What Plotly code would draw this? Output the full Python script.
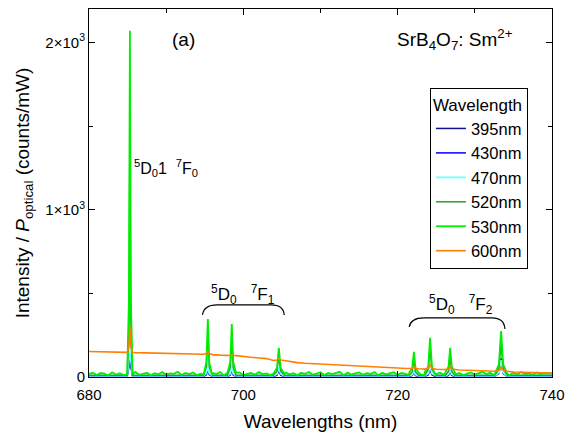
import plotly.graph_objects as go

# ---------------- data ----------------
SERIES = ["395nm", "430nm", "470nm", "520nm", "530nm", "600nm"]
COLORS = ["#10108c", "#0000ff", "#80ffff", "#2e9e2e", "#00ee00", "#ff8000"]
WIDTHS = [1.5, 1.5, 2.0, 1.5, 1.8, 1.6]

# emission peak positions (nm) and half base widths (nm)
PEAK_NM = [685.3, 695.4, 698.5, 704.6, 722.1, 724.2, 726.8, 733.4]
PEAK_HW = [0.35, 0.55, 0.55, 0.7, 0.6, 0.7, 0.6, 0.8]

# peak tops (counts/mW) per excitation wavelength
PEAK_395 = [260, 45, 40, 38, 28, 45, 32, 80]
PEAK_430 = [360, 62, 55, 48, 34, 58, 44, 112]
PEAK_470 = [470, 80, 72, 60, 40, 70, 52, 100]
PEAK_520 = [1450, 240, 220, 125, 105, 165, 120, 195]
PEAK_530 = [2070, 347, 317, 174, 150, 234, 174, 275]
PEAK_600 = [305, 156, 132, 110, 62, 72, 60, 60]

# baseline grids (nm) and baselines
BASE_NM = [680, 681, 682, 683, 684, 685, 686, 687, 688, 689, 690, 691, 692, 693, 694,
           695, 696, 697, 698, 699, 700, 701, 702, 703, 704, 705, 706, 707, 708, 709,
           710, 711, 712, 713, 714, 715, 716, 717, 718, 719, 720, 721, 722, 723, 724,
           725, 726, 727, 728, 729, 730, 731, 732, 733, 734, 735, 736, 737, 738, 739, 740]
FINE_NM = [680.0, 680.5, 681.0, 681.5, 682.0, 682.5, 683.0, 683.5, 684.0, 684.5,
           685.0, 685.5, 686.0, 686.5, 687.0, 687.5, 688.0, 688.5, 689.0, 689.5,
           690.0, 690.5, 691.0, 691.5, 692.0, 692.5, 693.0, 693.5, 694.0, 694.5,
           695.0, 695.5, 696.0, 696.5, 697.0, 697.5, 698.0, 698.5, 699.0, 699.5,
           700.0, 700.5, 701.0, 701.5, 702.0, 702.5, 703.0, 703.5, 704.0, 704.5,
           705.0, 705.5, 706.0, 706.5, 707.0, 707.5, 708.0, 708.5, 709.0, 709.5,
           710.0, 710.5, 711.0, 711.5, 712.0, 712.5, 713.0, 713.5, 714.0, 714.5,
           715.0, 715.5, 716.0, 716.5, 717.0, 717.5, 718.0, 718.5, 719.0, 719.5,
           720.0, 720.5, 721.0, 721.5, 722.0, 722.5, 723.0, 723.5, 724.0, 724.5,
           725.0, 725.5, 726.0, 726.5, 727.0, 727.5, 728.0, 728.5, 729.0, 729.5,
           730.0, 730.5, 731.0, 731.5, 732.0, 732.5, 733.0, 733.5, 734.0, 734.5,
           735.0, 735.5, 736.0, 736.5, 737.0, 737.5, 738.0, 738.5, 739.0, 739.5, 740.0]
BASE_395 = 4
BASE_430 = 5
BASE_470 = 7
BASE_520 = 11
BASE_530 = [18, 26, 12, 24, 20, 9, 28, 15, 22, 11, 27, 17, 30, 13, 21, 25, 10, 23, 16, 29,
            14, 22, 19, 31, 12, 24, 17, 27, 11, 20, 26, 13, 23, 18, 30, 10, 21, 25, 15, 28,
            12, 19, 24, 14, 29, 17, 22, 11, 26, 20, 13, 27, 16, 23, 10, 25, 19, 30, 14, 21,
            28, 12, 24, 17, 22, 31, 11, 26, 15, 20, 27, 13, 23, 18, 29, 10, 25, 16, 21, 28,
            14, 24, 19, 12, 27, 22, 15, 30, 11, 23, 18, 26, 13, 21, 29, 16, 24, 10, 20, 27,
            14, 22, 31, 17, 25, 12, 28, 19, 23, 11, 26, 15, 30, 18, 21, 13, 27, 16, 24, 20, 22]
BASE_600 = [152, 151, 150, 149, 148, 147, 146, 145, 144, 143, 142, 141, 140, 139, 138,
            136, 134, 131, 128, 125, 122, 118, 114, 110, 105, 99, 92, 86, 82, 80,
            78, 76, 74, 72, 70, 68, 66, 63, 60, 57, 54, 51, 49, 48, 47,
            46, 45, 44, 42, 40, 38, 36, 35, 34, 32, 30, 28, 27, 26, 24, 23]

PEAKS = [PEAK_395, PEAK_430, PEAK_470, PEAK_520, PEAK_530, PEAK_600]
BASES = [BASE_395, BASE_430, BASE_470, BASE_520, BASE_530, BASE_600]

PROFILE_OFF = [-1.0, -0.35, 0.0, 0.35, 1.0]
PROFILE_FRAC = [0.0, 0.22, 1.0, 0.22, 0.0]


def build(peaks, base):
    if not isinstance(base, list):
        grid = BASE_NM
        base = [base] * len(BASE_NM)
    else:
        grid = FINE_NM if len(base) == len(FINE_NM) else BASE_NM
    pts = []
    for x, b in zip(grid, base):
        if all(abs(x - p) > hw for p, hw in zip(PEAK_NM, PEAK_HW)):
            pts.append((x, b))
    for p, hw, h in zip(PEAK_NM, PEAK_HW, peaks):
        i = min(range(len(grid)), key=lambda k: abs(grid[k] - p))
        b = base[i]
        for o, f in zip(PROFILE_OFF, PROFILE_FRAC):
            pts.append((p + o * hw, b + f * (h - b)))
    pts.sort()
    return [q[0] for q in pts], [q[1] for q in pts]


fig = go.Figure()
for name, col, w, pk, bs in zip(SERIES, COLORS, WIDTHS, PEAKS, BASES):
    xs, ys = build(pk, bs)
    fig.add_trace(go.Scatter(x=xs, y=ys, mode="lines", name=name,
                             line=dict(color=col, width=w)))

FONT = "Liberation Sans, Arial, sans-serif"

fig.update_layout(
    width=567, height=434,
    margin=dict(l=89, r=15, t=9, b=57, autoexpand=False),
    paper_bgcolor="white", plot_bgcolor="white",
    font=dict(family=FONT, color="black", size=15),
    showlegend=True,
    legend=dict(
        title=dict(text="Wavelength", font=dict(size=17)),
        font=dict(size=16.5),
        x=0.948, y=0.785, xanchor="right", yanchor="top",
        bordercolor="black", borderwidth=1, bgcolor="white",
        tracegroupgap=0, itemwidth=30,
    ),
)

fig.update_xaxes(
    range=[680, 740], tickvals=[680, 700, 720, 740], automargin=False,
    ticks="inside", ticklen=6, tickwidth=1, tickcolor="black",
    minor=dict(tickvals=[690, 710, 730], ticks="inside", ticklen=4, tickcolor="black"),
    showline=True, linecolor="black", linewidth=1, mirror="ticks",
    showgrid=False, zeroline=False,
    tickfont=dict(size=15), ticklabelstandoff=4,
    title=dict(text="Wavelengths (nm)", font=dict(size=19), standoff=12),
)
fig.update_yaxes(
    range=[0, 2200], tickvals=[0, 1000, 2000], automargin=False,
    ticktext=["0", "1×10<sup>3</sup>", "2×10<sup>3</sup>"],
    ticks="inside", ticklen=6, tickwidth=1, tickcolor="black",
    minor=dict(tickvals=[500, 1500], ticks="inside", ticklen=4, tickcolor="black"),
    showline=True, linecolor="black", linewidth=1, mirror="ticks",
    showgrid=False, zeroline=False,
    tickfont=dict(size=15),
    title=dict(text="Intensity / <i>P</i><sub>optical</sub> (counts/mW)",
               font=dict(size=19), standoff=10),
)

# text annotations
ann = [
    dict(x=692.2, y=2015, text="(a)", size=19),
    dict(x=727.4, y=2015, text="SrB<sub>4</sub>O<sub>7</sub>: Sm<sup>2+</sup>", size=19),
    dict(x=690.0, y=1250, text="<sup>5</sup>D<sub>0</sub>1  <sup>7</sup>F<sub>0</sub>", size=16),
    dict(x=700.0, y=495, text="<sup>5</sup>D<sub>0</sub>   <sup>7</sup>F<sub>1</sub>", size=17),
    dict(x=728.2, y=435, text="<sup>5</sup>D<sub>0</sub>   <sup>7</sup>F<sub>2</sub>", size=17),
]
for a in ann:
    fig.add_annotation(x=a["x"], y=a["y"], text=a["text"], showarrow=False,
                       xref="x", yref="y", font=dict(size=a["size"], family=FONT, color="black"))

# curly brackets over the multiplets
fig.add_shape(type="path", xref="x", yref="y",
              path="M 694.7,371 Q 694.9,431 696.6,431 L 703.6,431 Q 705.2,431 705.3,371",
              line=dict(color="black", width=1.2))
fig.add_shape(type="path", xref="x", yref="y",
              path="M 721.5,299 Q 721.7,353 723.4,353 L 732.2,353 Q 733.8,353 733.9,287",
              line=dict(color="black", width=1.2))

fig.write_html("out.html")
